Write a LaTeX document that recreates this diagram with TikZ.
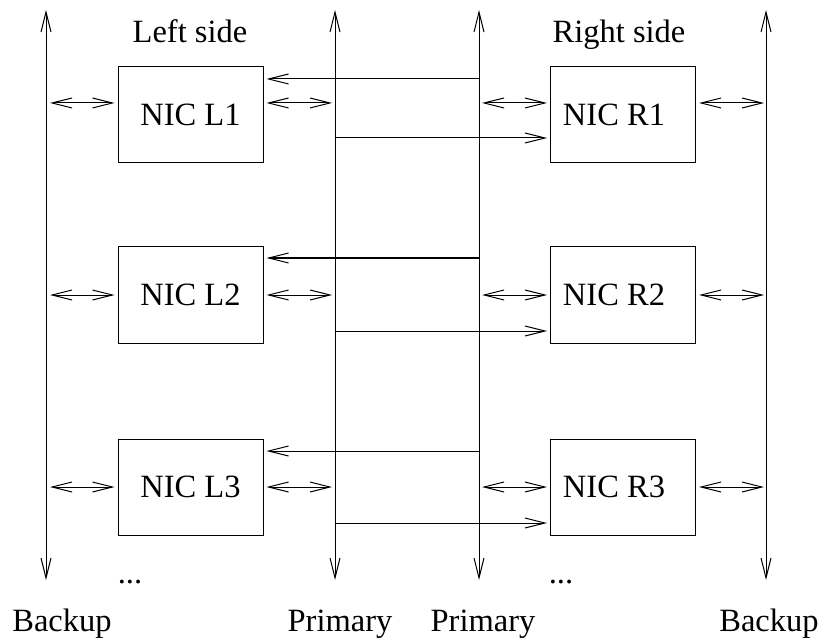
\documentclass[tikz,border=0pt]{standalone}
\usepackage{fontspec}
\setmainfont{Liberation Serif}
\usetikzlibrary{arrows.meta,calc}
\begin{document}
\begin{tikzpicture}[x=1pt,y=-1pt,
  line width=1pt,
  >={Straight Barb[length=20pt,width=10pt]},
  every node/.style={font=\fontsize{32.5}{39}\selectfont, inner sep=0pt},
  nic/.style={draw, minimum width=145pt, minimum height=96pt},
  lbl/.style={anchor=base}]
\useasboundingbox (0,0) rectangle (822,639);
% bus lines
\coordinate (BLt) at (46,10);  \coordinate (BLb) at (46,580);
\coordinate (PLt) at (335,10); \coordinate (PLb) at (335,580);
\coordinate (PRt) at (479,10); \coordinate (PRb) at (479,580);
\coordinate (BRt) at (766,10); \coordinate (BRb) at (766,580);
% row levels
\coordinate (u1) at (0,79);  \coordinate (d1) at (0,103); \coordinate (w1) at (0,138);
\coordinate (u2) at (0,258); \coordinate (d2) at (0,295); \coordinate (w2) at (0,331);
\coordinate (u3) at (0,451); \coordinate (d3) at (0,487); \coordinate (w3) at (0,523);
\draw[<->] (BLb) -- (BLt);
\draw[<->] (PLb) -- (PLt);
\draw[<->] (PRb) -- (PRt);
\draw[<->] (BRb) -- (BRt);
% boxes
\node[nic] (L1) at (190.5,115) {NIC L1};
\node[nic] (L2) at (190.5,295) {NIC L2};
\node[nic] (L3) at (190.5,487) {NIC L3};
\node[nic] (R1) at (623,115) {\hspace*{-18pt}NIC R1};
\node[nic] (R2) at (623,295) {\hspace*{-18pt}NIC R2};
\node[nic] (R3) at (623,487) {\hspace*{-18pt}NIC R3};
% connectors
\foreach \i in {1,2,3}{
  \draw[<->] ($(BLt |- d\i)+(4,0)$) -- ($(L\i.west |- d\i)+(-3,0)$);
  \draw[<->] ($(L\i.east |- d\i)+(3,0)$) -- ($(PLt |- d\i)+(-3,0)$);
  \draw[->] (PRt |- u\i) -- ($(L\i.east |- u\i)+(3,0)$);
  \draw[->] (PLt |- w\i) -- ($(R\i.west |- w\i)+(-3,0)$);
  \draw[<->] ($(PRt |- d\i)+(3,0)$) -- ($(R\i.west |- d\i)+(-3,0)$);
  \draw[<->] ($(R\i.east |- d\i)+(3,0)$) -- ($(BRt |- d\i)+(-2,0)$);
}
% labels
\node[lbl] (ls) at (190,43) {Left side};
\node[lbl] (rs) at (619,43) {Right side};
\node[lbl] (dl) at (130,583) {...};
\node[lbl] (dr) at (561,583) {...};
\node[lbl] (bl) at (62,631) {Backup};
\node[lbl] (pl) at (340,631) {Primary};
\node[lbl] (pr) at (483,631) {Primary};
\node[lbl] (br) at (769,631) {Backup};
\end{tikzpicture}
\end{document}
